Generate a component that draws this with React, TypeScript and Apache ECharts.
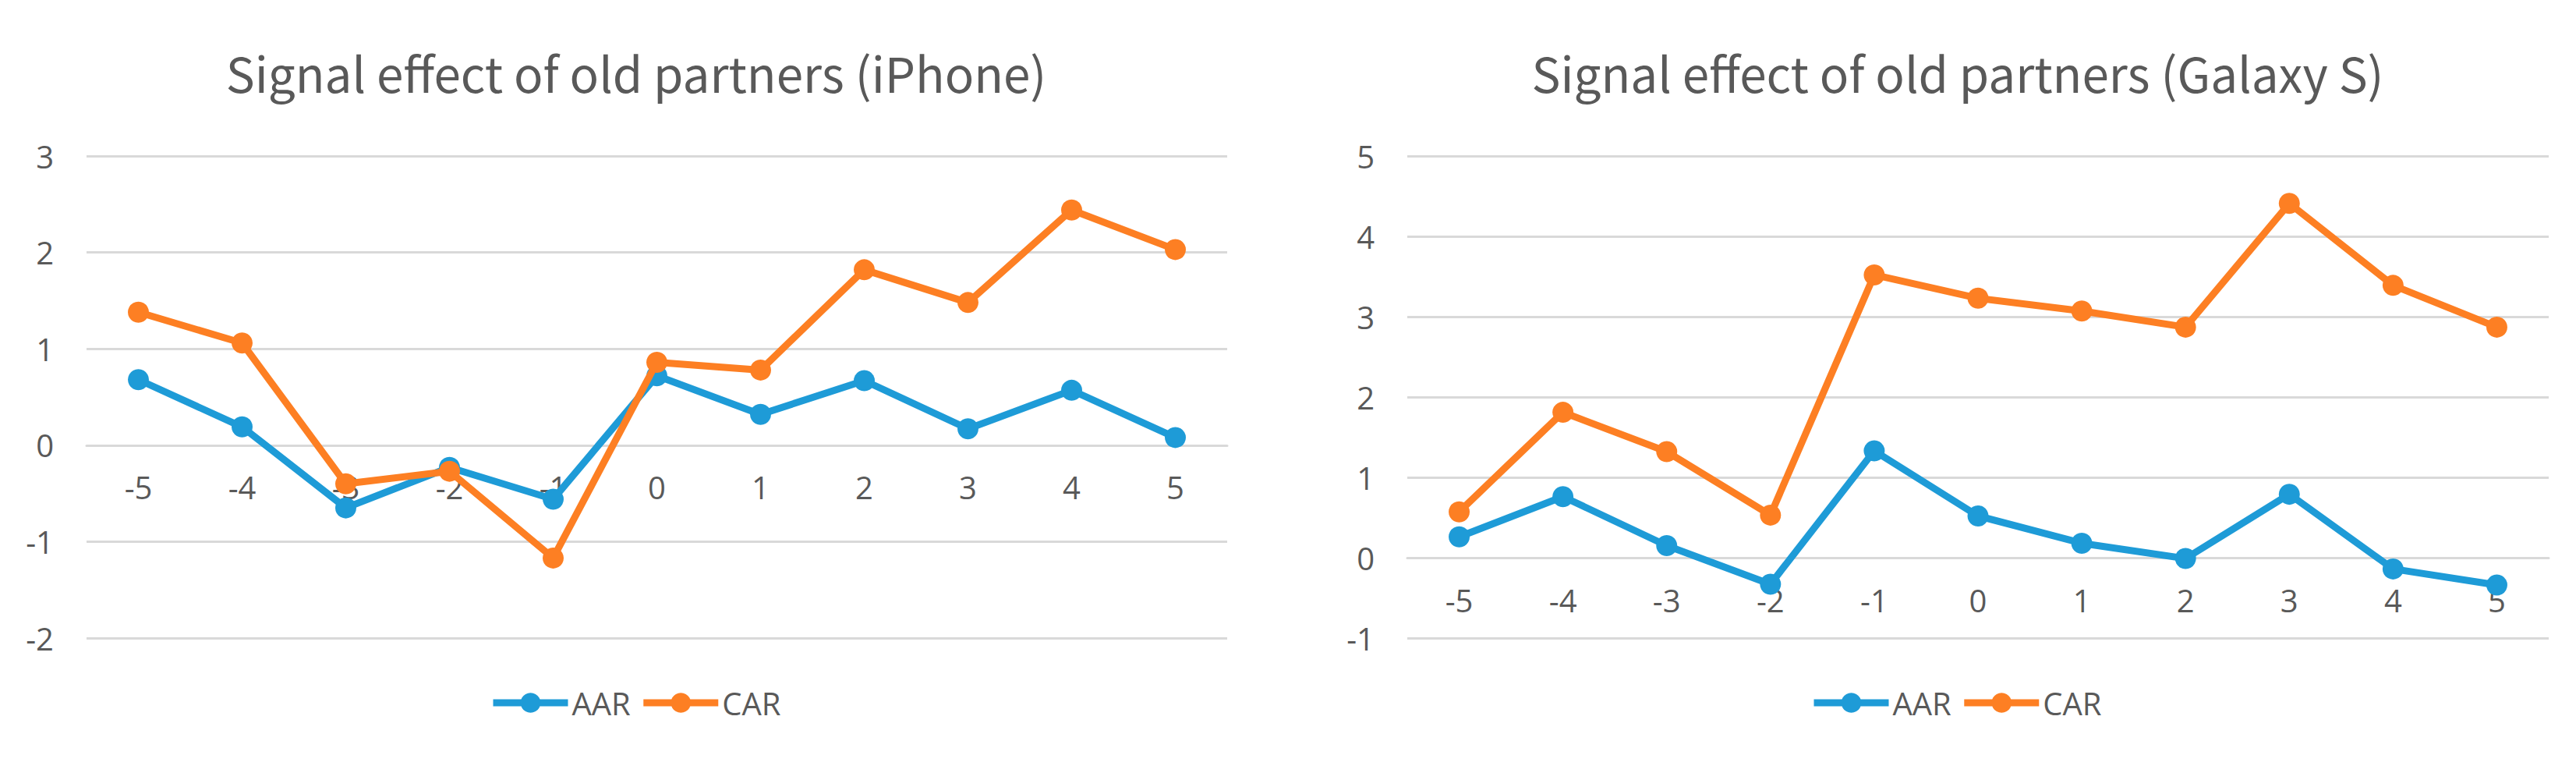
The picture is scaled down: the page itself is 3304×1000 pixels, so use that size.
import React, { useEffect, useRef } from "react";
import * as echarts from "echarts";

const categories = ["-5", "-4", "-3", "-2", "-1", "0", "1", "2", "3", "4", "5"];
const iphoneAAR = [0.68, 0.19, -0.65, -0.23, -0.56, 0.72, 0.32, 0.67, 0.17, 0.57, 0.08];
const iphoneCAR = [1.38, 1.06, -0.4, -0.27, -1.17, 0.86, 0.78, 1.82, 1.48, 2.44, 2.03];
const galaxyAAR = [0.26, 0.76, 0.15, -0.33, 1.33, 0.52, 0.18, -0.01, 0.79, -0.14, -0.34];
const galaxyCAR = [0.57, 1.81, 1.32, 0.53, 3.52, 3.23, 3.07, 2.87, 4.41, 3.39, 2.87];
const titles = ["Signal effect of old partners (iPhone)", "Signal effect of old partners (Galaxy S)"];
const seriesNames = ["AAR", "CAR"];
const yRanges = [
  [-2, 3],
  [-1, 5],
];

const BLUE = "#1E9BD7";
const ORANGE = "#FD7F23";
const TEXT = "#595959";
const GRID = "#D9D9D9";
const FONT = "'Open Sans', 'Noto Sans', sans-serif";
const TITLE_FONT = "'Noto Sans CJK KR', 'Open Sans', sans-serif";
const GRID_H = 618;

export default function App() {
  const ref = useRef<HTMLDivElement>(null);
  useEffect(() => {
    document.body.style.margin = "0";
    const chart = echarts.init(ref.current!, undefined, { renderer: "svg" });
    const xAxisBase = (gridIndex: number) => {
      const [mn, mx] = yRanges[gridIndex];
      return {
        type: "category",
        gridIndex,
        data: categories,
        boundaryGap: true,
        position: "bottom",
        offset: -(GRID_H * (0 - mn)) / (mx - mn),
        axisLine: { show: true, onZero: false, lineStyle: { color: GRID, width: 3 } },
        axisTick: { show: false },
        axisLabel: { fontSize: 40, color: TEXT, margin: 34, fontFamily: FONT },
      };
    };
    const yAxisBase = (gridIndex: number) => ({
      type: "value",
      gridIndex,
      min: yRanges[gridIndex][0],
      max: yRanges[gridIndex][1],
      interval: 1,
      axisLine: { show: false },
      axisTick: { show: false },
      splitLine: { lineStyle: { color: GRID, width: 3 } },
      axisLabel: { fontSize: 40, color: TEXT, margin: 42, fontFamily: FONT },
    });
    const lineSeries = (name: string, data: number[], color: string, idx: number) => ({
      name,
      type: "line",
      xAxisIndex: idx,
      yAxisIndex: idx,
      data,
      symbol: "circle",
      symbolSize: 27,
      lineStyle: { width: 9, color },
      itemStyle: { color },
      z: name === "CAR" ? 3 : 2,
    });
    const legendBase = (left: number) => ({
      left,
      top: 876,
      orient: "horizontal",
      data: seriesNames,
      itemWidth: 96,
      itemHeight: 32,
      itemGap: 12,
      lineStyle: { width: 9 },
      textStyle: { fontSize: 40, color: TEXT, fontFamily: FONT },
    });
    const titleBase = (i: number, left: number) => ({
      text: titles[i],
      left,
      top: 56,
      textAlign: "center",
      textStyle: { fontSize: 62, fontWeight: "normal", color: TEXT, fontFamily: TITLE_FONT },
    });
    chart.setOption({
      animation: false,
      backgroundColor: "#ffffff",
      title: [titleBase(0, 811), titleBase(1, 2506)],
      legend: [legendBase(623), legendBase(2317)],
      grid: [
        { left: 111, top: 200, width: 1463, height: GRID_H, containLabel: false },
        { left: 1805, top: 200, width: 1464, height: GRID_H, containLabel: false },
      ],
      xAxis: [xAxisBase(0), xAxisBase(1)],
      yAxis: [yAxisBase(0), yAxisBase(1)],
      series: [
        lineSeries(seriesNames[0], iphoneAAR, BLUE, 0),
        lineSeries(seriesNames[1], iphoneCAR, ORANGE, 0),
        lineSeries(seriesNames[0], galaxyAAR, BLUE, 1),
        lineSeries(seriesNames[1], galaxyCAR, ORANGE, 1),
      ],
    });
    return () => chart.dispose();
  }, []);
  return (
    <div
      ref={ref}
      style={{ position: "absolute", left: 0, top: 0, width: 3304, height: 1000 }}
    />
  );
}
